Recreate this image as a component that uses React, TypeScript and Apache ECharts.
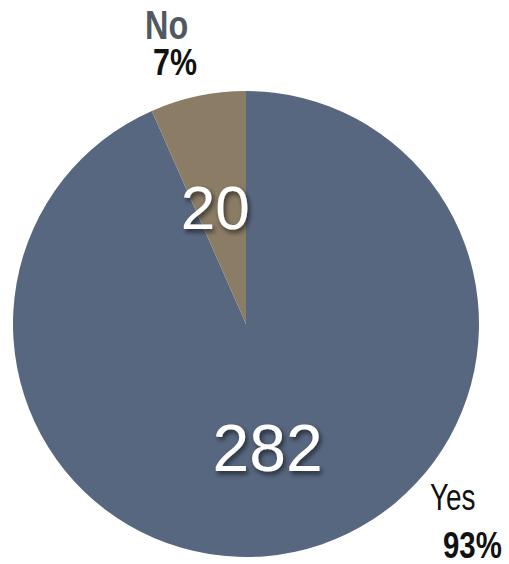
import React, { useEffect, useRef } from "react";
import * as echarts from "echarts";

const categories = ["Yes", "No"];
const counts = [282, 20];
const colors = ["#57677f", "#8a7c65"];

// label placement (layout only)
const innerOffsets: [number, number][] = [[-3, 7], [-6, 0]];
const outerLabelLayout = [
  {
    name: { x: 430, y: 498, size: 36, weight: "normal", color: "#111111", scaleX: 0.775 },
    pct: { x: 443, y: 545, size: 37, weight: "bold", color: "#111111", scaleX: 0.795 },
  },
  {
    name: { x: 145, y: 25, size: 41, weight: "bold", color: "#52585f", scaleX: 0.79 },
    pct: { x: 153, y: 61.5, size: 37.5, weight: "bold", color: "#111111", scaleX: 0.81 },
  },
];

export default function App() {
  const ref = useRef<HTMLDivElement>(null);
  useEffect(() => {
    if (!ref.current) return;
    const chart = echarts.init(ref.current, null, { renderer: "svg" });
    const total = counts.reduce((a, b) => a + b, 0);
    const fam = "'Liberation Sans', Arial, Helvetica, sans-serif";
    const graphics: any[] = [];
    categories.forEach((c, i) => {
      const pct = Math.round((counts[i] / total) * 100) + "%";
      const lay = outerLabelLayout[i];
      [
        { t: c, l: lay.name },
        { t: pct, l: lay.pct },
      ].forEach(({ t, l }) => {
        graphics.push({
          type: "text",
          x: l.x,
          y: l.y,
          scaleX: l.scaleX,
          silent: true,
          style: {
            text: t,
            fill: l.color,
            font: `${l.weight} ${l.size}px ${fam}`,
            textAlign: "left",
            textVerticalAlign: "middle",
          },
        });
      });
    });
    chart.setOption({
      animation: false,
      backgroundColor: "#ffffff",
      graphic: graphics,
      series: [
        {
          type: "pie",
          center: [246, 324],
          radius: 233,
          startAngle: 90,
          clockwise: true,
          silent: true,
          labelLine: { show: false },
          data: categories.map((c, i) => ({
            name: c,
            value: counts[i],
            itemStyle: { color: colors[i] },
            label: {
              show: true,
              position: "inside",
              offset: innerOffsets[i],
              formatter: "{c}",
              color: "#ffffff",
              fontSize: i === 0 ? 66 : 62,
              fontFamily: fam,
              textShadowColor: "rgba(0,0,0,0.6)",
              textShadowBlur: 5,
              textShadowOffsetX: 2,
              textShadowOffsetY: 3,
            },
          })),
        },
      ],
    });
    return () => chart.dispose();
  }, []);
  return (
    <div
      ref={ref}
      style={{ position: "absolute", left: 0, top: 0, width: 509, height: 564 }}
    />
  );
}
